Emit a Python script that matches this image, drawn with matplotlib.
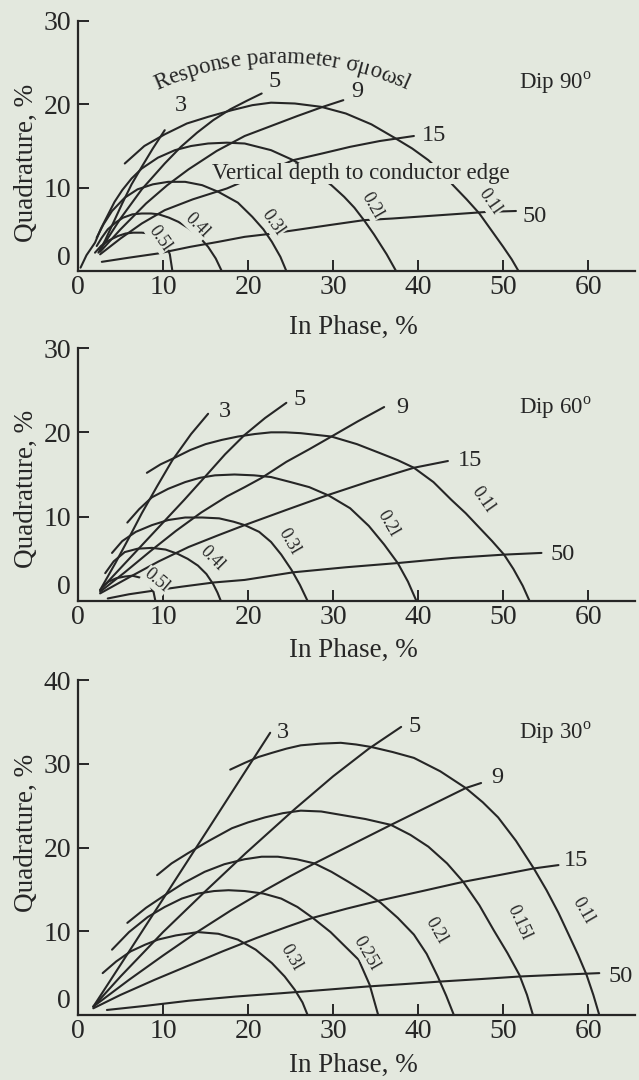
import numpy as np
import matplotlib
matplotlib.use("Agg")
import matplotlib.pyplot as plt
from matplotlib.font_manager import FontProperties
from matplotlib.textpath import TextToPath
from matplotlib.transforms import IdentityTransform

plt.rcParams['font.family'] = ['Liberation Serif', 'DejaVu Serif']
plt.rcParams['mathtext.fontset'] = 'custom'
plt.rcParams['mathtext.rm'] = 'Liberation Serif'

BG = '#e3e8de'
INK = '#262626'

# ---------------- Dip 90 : (in phase %, quadrature %)
d90_arc_01 = [(5.5, 12.9), (7.8, 15.0), (10.2, 16.4), (12.8, 17.7), (15.3, 18.5), (18.1, 19.3),
              (20.5, 19.9), (22.7, 20.2), (25.5, 20.1), (28.6, 19.7), (31.5, 18.9), (34.5, 17.6),
              (37.2, 16.0), (39.3, 14.7), (41.2, 13.3), (42.8, 11.8), (44.1, 10.3), (45.7, 8.6),
              (47.2, 6.9), (48.6, 4.9), (50.0, 2.9), (51.0, 1.4), (51.8, 0.0)]
d90_arc_02 = [(0.3, 0.4), (1.0, 1.9), (2.0, 3.4), (2.7, 5.1), (3.5, 6.7), (4.3, 8.3), (5.2, 9.7),
              (6.3, 11.1), (7.5, 12.3), (9.4, 13.6), (11.4, 14.5), (13.3, 15.0), (15.3, 15.3),
              (17.5, 15.4), (19.6, 15.3), (22.7, 14.5), (25.3, 13.3), (27.6, 11.9), (29.8, 10.3),
              (31.3, 8.9), (32.5, 7.6), (33.7, 6.0), (34.8, 4.4), (36.3, 2.0), (37.4, 0.0)]
d90_arc_03 = [(2.2, 4.0), (3.0, 5.6), (4.0, 7.2), (5.5, 8.8), (7.0, 9.8), (8.8, 10.4), (10.6, 10.7),
              (12.6, 10.7), (14.6, 10.3), (16.5, 9.5), (18.8, 8.2), (20.5, 6.5), (21.8, 5.0),
              (22.8, 3.5), (23.8, 1.7), (24.5, 0.0)]
d90_arc_04 = [(2.2, 3.0), (2.8, 4.0), (3.5, 5.0), (4.4, 5.8), (5.3, 6.4), (6.4, 6.8), (7.5, 6.9),
              (8.6, 6.9), (9.5, 6.8), (10.7, 6.4), (11.8, 5.9), (12.9, 5.2), (13.8, 4.5),
              (14.6, 3.7), (15.3, 2.9), (16.2, 1.5), (16.9, 0.0)]
d90_arc_05 = [(2.0, 2.2), (2.7, 3.0), (3.5, 3.6), (4.7, 4.2), (5.6, 4.5), (6.5, 4.6), (7.5, 4.6),
              (8.4, 4.5), (9.1, 4.2), (9.6, 3.9), (10.1, 3.4), (10.5, 2.8), (10.8, 2.0),
              (10.95, 1.0), (11.1, 0.0)]
d90_line_3 = [(2.4, 2.2), (3.2, 3.7), (4.2, 5.9), (5.2, 8.1), (6.3, 10.4), (7.5, 12.5), (8.8, 14.7),
              (10.2, 16.9)]
d90_line_5 = [(2.6, 2.5), (3.8, 4.4), (5.0, 6.3), (7.5, 9.8), (10.2, 12.9), (12.1, 14.9), (14.0, 16.6),
              (15.9, 18.1), (17.9, 19.4), (19.8, 20.4), (21.6, 21.3)]
d90_line_9 = [(2.6, 2.3), (5.0, 5.0), (8.0, 8.1), (10.5, 10.3), (13.0, 12.2), (16.3, 14.4),
              (19.6, 16.2), (22.7, 17.4), (25.8, 18.6), (28.8, 19.7), (31.2, 20.5)]
d90_line_15 = [(2.6, 2.0), (5.0, 3.9), (7.5, 5.7), (10.2, 7.3), (13.5, 8.6), (17.5, 9.9), (21.4, 11.6),
               (25.3, 13.3), (28.7, 14.1), (32.0, 14.9), (35.5, 15.6), (39.5, 16.2)]
d90_line_50 = [(2.8, 1.1), (6.0, 1.6), (9.4, 2.1), (13.2, 2.9), (16.5, 3.5), (19.6, 4.1), (22.1, 4.4),
               (25.5, 4.9), (29.5, 5.5), (33.6, 6.1), (37.0, 6.3), (42.6, 6.7), (48.2, 7.1),
               (51.5, 7.2)]

# ---------------- Dip 60
d60_arc_01 = [(8.1, 15.2), (9.7, 16.2), (11.4, 17.0), (13.2, 17.9), (15.0, 18.6), (16.9, 19.1),
              (18.8, 19.5), (20.8, 19.8), (22.7, 20.0), (24.4, 20.0), (26.2, 19.9), (28.0, 19.7),
              (29.8, 19.5), (32.8, 18.6), (35.6, 17.5), (37.6, 16.7), (39.5, 15.8), (41.8, 14.1),
              (43.9, 12.0), (45.6, 10.4), (47.1, 8.8), (48.7, 7.1), (50.1, 5.5), (51.2, 3.8),
              (52.3, 1.8), (53.1, 0.0)]
d60_arc_02 = [(5.8, 9.3), (7.2, 10.9), (8.7, 12.3), (10.6, 13.3), (12.6, 14.1), (14.3, 14.6),
              (16.1, 14.9), (18.4, 15.0), (20.7, 14.9), (22.7, 14.7), (25.0, 14.1), (27.2, 13.5),
              (29.5, 12.5), (32.0, 11.0), (34.2, 8.9), (36.0, 6.7), (37.6, 4.5), (38.8, 2.3),
              (39.8, 0.0)]
d60_arc_03 = [(4.0, 5.7), (5.2, 7.1), (6.8, 8.2), (8.7, 9.0), (10.6, 9.6), (12.6, 9.9), (14.6, 9.9),
              (16.6, 9.8), (18.3, 9.4), (19.6, 9.0), (21.3, 8.2), (22.7, 7.0), (23.9, 5.5),
              (25.1, 3.7), (26.1, 1.9), (27.0, 0.0)]
d60_arc_04 = [(3.2, 3.3), (4.2, 4.7), (5.5, 5.8), (7.0, 6.2), (8.7, 6.3), (10.3, 6.1), (11.7, 5.6),
              (12.9, 5.0), (14.1, 4.2), (15.1, 3.2), (15.9, 2.0), (16.4, 1.0), (16.8, 0.0)]
d60_arc_05 = [(2.9, 1.7), (3.6, 2.3), (4.5, 2.7), (5.5, 2.9), (6.4, 3.0), (7.2, 2.8), (7.9, 2.5),
              (8.5, 1.8), (8.9, 1.0), (9.1, 0.0)]
d60_line_3 = [(2.6, 1.3), (4.4, 4.5), (6.0, 7.5), (7.5, 10.4), (9.3, 13.6), (11.1, 16.7),
              (13.3, 19.8), (15.3, 22.2)]
d60_line_5 = [(2.6, 1.3), (5.0, 3.9), (7.5, 6.6), (10.0, 9.3), (12.5, 12.0), (15.0, 14.8),
              (17.3, 17.4), (19.6, 19.7), (22.0, 21.7), (24.5, 23.5)]
d60_line_9 = [(2.6, 1.1), (5.5, 3.4), (8.5, 5.9), (11.5, 8.3), (14.5, 10.5), (17.5, 12.4),
              (19.6, 13.5), (21.6, 14.6), (24.5, 16.5), (27.2, 18.0), (29.8, 19.5), (32.9, 21.3),
              (36.0, 23.0)]
d60_line_15 = [(2.6, 0.9), (6.0, 2.8), (9.5, 4.7), (13.0, 6.4), (16.5, 7.8), (19.6, 9.0),
               (24.5, 10.8), (29.2, 12.5), (34.3, 14.2), (39.5, 15.8), (43.5, 16.6)]
d60_line_50 = [(3.5, 0.3), (6.0, 0.8), (8.7, 1.2), (12.2, 1.7), (16.0, 2.2), (19.6, 2.5),
               (25.3, 3.4), (31.5, 4.0), (37.6, 4.5), (44.0, 5.1), (50.1, 5.5), (54.5, 5.7)]

# ---------------- Dip 30
d30_arc_01 = [(17.9, 29.3), (19.6, 30.1), (21.2, 30.8), (22.8, 31.3), (24.5, 31.8), (26.2, 32.2),
              (28.5, 32.4), (30.9, 32.5), (32.7, 32.3), (34.5, 32.0), (37.0, 31.4), (39.5, 30.7),
              (42.6, 29.1), (45.6, 27.1), (47.6, 25.4), (49.4, 23.6), (51.5, 20.8), (53.6, 17.5),
              (55.1, 14.9), (56.5, 12.2), (57.7, 9.6), (58.8, 7.2), (59.8, 4.8), (60.6, 2.4),
              (61.3, 0.0)]
d30_arc_015 = [(9.3, 16.7), (11.0, 18.1), (12.9, 19.3), (15.4, 20.8), (18.1, 22.3), (20.0, 23.0),
               (22.0, 23.6), (24.1, 24.1), (26.2, 24.4), (28.6, 24.3), (30.9, 23.9), (33.8, 23.4),
               (36.8, 22.7), (39.1, 21.5), (41.2, 20.1), (43.4, 18.1), (45.3, 15.9), (47.2, 13.1),
               (48.9, 10.1), (50.5, 7.4), (51.9, 4.8), (52.8, 2.4), (53.5, 0.0)]
d30_arc_02 = [(5.8, 11.0), (8.0, 12.8), (10.2, 14.3), (12.5, 15.8), (14.9, 17.1), (17.2, 18.0),
              (19.6, 18.6), (21.6, 18.9), (23.5, 18.9), (25.7, 18.6), (27.8, 18.1), (29.8, 17.1),
              (31.8, 15.9), (33.7, 14.7), (35.6, 13.4), (37.6, 11.6), (39.5, 9.6), (41.0, 7.3),
              (42.3, 4.6), (43.3, 2.3), (44.2, 0.0)]
d30_arc_025 = [(4.0, 7.8), (6.0, 9.9), (8.2, 11.7), (10.2, 12.9), (12.2, 13.9), (14.1, 14.5),
               (16.0, 14.8), (17.7, 14.9), (19.6, 14.8), (21.8, 14.5), (23.9, 13.9), (25.8, 12.9),
               (27.6, 11.6), (29.7, 9.9), (31.7, 7.9), (33.0, 6.6), (34.3, 3.6), (35.3, 0.0)]
d30_arc_03 = [(2.9, 5.0), (4.5, 6.4), (6.2, 7.6), (7.9, 8.4), (9.4, 9.0), (11.5, 9.5), (14.1, 9.9),
              (16.5, 9.7), (18.8, 9.0), (20.9, 7.8), (22.8, 6.2), (24.3, 4.6), (25.5, 3.0),
              (26.4, 1.5), (27.0, 0.0)]
d30_line_3 = [(1.8, 1.0), (5.0, 6.0), (8.5, 11.5), (12.0, 17.0), (15.5, 22.5), (19.3, 28.5),
              (22.6, 33.7)]
d30_line_5 = [(1.8, 1.0), (5.0, 4.6), (10.0, 9.9), (15.0, 14.8), (19.7, 19.3), (25.5, 24.6),
              (30.0, 28.5), (34.2, 31.8), (38.0, 34.4)]
d30_line_9 = [(1.8, 1.0), (6.0, 4.2), (10.0, 7.1), (14.0, 9.9), (18.0, 12.5), (22.0, 14.9),
              (25.0, 16.6), (27.8, 18.1), (32.3, 20.4), (36.8, 22.7), (41.2, 24.9), (45.6, 27.1),
              (47.4, 27.7)]
d30_line_15 = [(1.8, 0.8), (5.0, 2.4), (9.0, 4.2), (13.0, 5.9), (17.0, 7.6), (21.0, 9.2),
               (24.5, 10.5), (27.6, 11.6), (31.6, 12.7), (35.6, 13.7), (40.5, 14.8), (45.3, 15.9),
               (49.5, 16.7), (53.6, 17.5), (56.5, 17.9)]
d30_line_50 = [(3.4, 0.6), (8.0, 1.1), (13.0, 1.7), (18.5, 2.2), (23.9, 2.6), (29.0, 3.0),
               (34.0, 3.4), (38.5, 3.7), (42.7, 4.0), (47.5, 4.3), (52.0, 4.6), (56.5, 4.8),
               (61.3, 5.0)]

response_names = ['3', '5', '9', '15', '50']
depth_names_90 = ['0.1l', '0.2l', '0.3l', '0.4l', '0.5l']
depth_names_30 = ['0.1l', '0.15l', '0.2l', '0.25l', '0.3l']

# label placement (x, y, rotation) for the depth names, and (x, y) for response names
d90_depth_pos = [(48.4, 8.3, -55), (34.6, 7.8, -60), (22.9, 5.8, -55), (14.0, 5.5, -45), (9.6, 3.9, -55)]
d60_depth_pos = [(47.6, 12.0, -55), (36.5, 9.2, -60), (24.8, 7.0, -60), (15.8, 5.1, -45), (9.2, 2.4, -40)]
d30_depth_pos = [(59.4, 12.5, -60), (51.9, 11.0, -65), (42.1, 10.1, -60), (33.9, 7.4, -60), (25.1, 6.9, -60)]
d90_resp_pos = [(11.4, 19.9), (22.4, 22.7), (32.1, 21.5), (40.4, 16.3), (52.3, 6.6)]
d60_resp_pos = [(16.5, 22.5), (25.3, 23.9), (37.4, 23.0), (44.7, 16.7), (55.6, 5.5)]
d30_resp_pos = [(23.4, 33.7), (38.9, 34.5), (48.6, 28.4), (57.1, 18.4), (62.4, 4.6)]

fig = plt.figure(figsize=(6.39, 10.8), dpi=100)
fig.patch.set_facecolor(BG)


def draw_panel(rect, ymax, yticks, arcs, lines, depth_names, depth_pos, resp_pos, dip, dip_y, ylab_y, xlab_y):
    ax = fig.add_axes(rect)
    ax.set_facecolor(BG)
    ax.set_xlim(0, 65.5)
    ax.set_ylim(0, ymax)
    for pts in arcs + lines:
        x, y = zip(*pts)
        ax.plot(x, y, color=INK, lw=1.5, solid_capstyle='round', solid_joinstyle='round', zorder=2)
    for name, (x, y, rot) in zip(depth_names, depth_pos):
        ax.text(x, y, name, fontsize=13, rotation=rot, ha='center', va='center', color=INK,
                rotation_mode='anchor', zorder=4,
                bbox=dict(facecolor=BG, edgecolor='none', pad=0.5))
    for name, (x, y) in zip(response_names, resp_pos):
        ax.text(x, y, name, fontsize=17.5, ha='left', va='center', color=INK, zorder=4)
    ax.text(51.9, dip_y, r'Dip ' + dip + r'$^{\rm o}$', fontsize=16.5, ha='left', va='center', color=INK)

    for s in ['top', 'right']:
        ax.spines[s].set_visible(False)
    for s in ['left', 'bottom']:
        ax.spines[s].set_linewidth(1.6)
        ax.spines[s].set_color(INK)
    ax.set_xticks([0, 10, 20, 30, 40, 50, 60])
    ax.set_yticks(yticks)
    ax.tick_params(axis='x', direction='in', length=8, width=1.4, color=INK, labelsize=20,
                   labelcolor=INK, pad=3)
    ax.tick_params(axis='y', direction='in', length=8, width=1.4, color=INK, labelsize=20,
                   labelcolor=INK, pad=5)
    # the zero of the y axis sits a little above the corner
    ax.annotate('0', xy=(0, 0), xycoords='axes fraction', xytext=(-7, 13), textcoords='offset pixels',
                ha='right', va='center', fontsize=20, color=INK)
    ax.set_xlabel('In Phase, %', fontsize=19.5, color=INK)
    ax.set_ylabel('Quadrature, %', fontsize=19.5, color=INK)
    ax.xaxis.set_label_coords(0.494, xlab_y)
    ax.xaxis.label.set_va('center')
    ax.yaxis.set_label_coords(-0.093, ylab_y)
    ax.yaxis.label.set_va('center')
    return ax


ax1 = draw_panel([78 / 639, 1 - 271 / 1080, 557 / 639, 250 / 1080], 30, [10, 20, 30],
                 [d90_arc_01, d90_arc_02, d90_arc_03, d90_arc_04, d90_arc_05],
                 [d90_line_3, d90_line_5, d90_line_9, d90_line_15, d90_line_50],
                 depth_names_90, d90_depth_pos, d90_resp_pos, '90', 22.6, 0.432, -0.224)
ax2 = draw_panel([78 / 639, 1 - 601 / 1080, 557 / 639, 253 / 1080], 30, [10, 20, 30],
                 [d60_arc_01, d60_arc_02, d60_arc_03, d60_arc_04, d60_arc_05],
                 [d60_line_3, d60_line_5, d60_line_9, d60_line_15, d60_line_50],
                 depth_names_90, d60_depth_pos, d60_resp_pos, '60', 22.9, 0.443, -0.194)
ax3 = draw_panel([78 / 639, 1 - 1015 / 1080, 557 / 639, 335 / 1080], 40, [10, 20, 30, 40],
                 [d30_arc_01, d30_arc_015, d30_arc_02, d30_arc_025, d30_arc_03],
                 [d30_line_3, d30_line_5, d30_line_9, d30_line_15, d30_line_50],
                 depth_names_30, d30_depth_pos, d30_resp_pos, '30', 33.7, 0.543, -0.149)

# annotation in the top panel, masking the curves behind it
ax1.text(33.3, 11.7, 'Vertical depth to conductor edge', fontsize=16.5, ha='center', va='center',
         color=INK, zorder=5, bbox=dict(facecolor=BG, edgecolor='none', pad=0.3))


# curved caption along an arc (pixel coordinates of the figure)
def arc_text(s, cx, cy, r, size):
    fp = FontProperties(family=['Liberation Serif', 'DejaVu Serif'], size=size)
    ttp = TextToPath()
    widths = [ttp.get_text_width_height_descent(c, fp, ismath=False)[0] * fig.dpi / 72 for c in s]
    theta = np.pi / 2 + sum(widths) / 2 / r
    for c, w in zip(s, widths):
        th = theta - w / 2 / r
        fig.text(cx + r * np.cos(th), cy + r * np.sin(th), c, transform=IdentityTransform(),
                 rotation=np.degrees(th) - 90, ha='center', va='baseline', rotation_mode='anchor',
                 fontproperties=fp, color=INK)
        theta -= w / r


arc_text('Response parameter σμοωsl', 282, 1080 - 364, 301, 16.5)

fig.savefig('out.png', dpi=100, facecolor=BG)
